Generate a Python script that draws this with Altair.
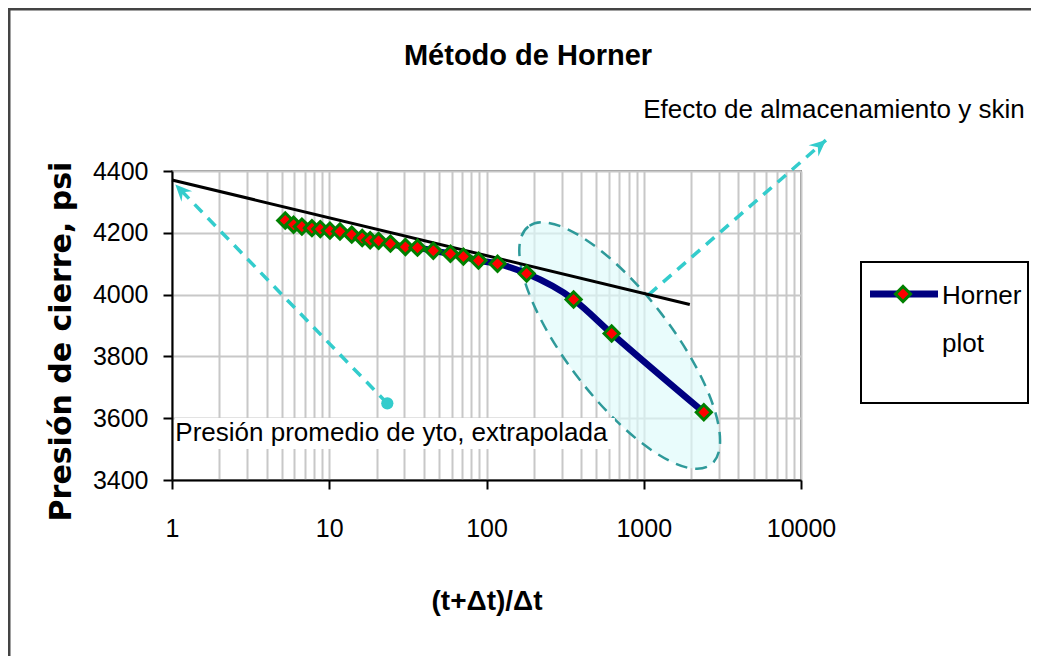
import altair as alt
import pandas as pd

# ---- data ----
horner_x = [5.25, 5.93, 6.7, 7.76, 8.77, 10.1, 11.7, 13.9, 16.2, 18.2, 20.6, 24.5,
            30.5, 36.4, 45.9, 59.0, 71.3, 88.9, 117.5, 180, 358, 625, 2410]
pressure = [4240, 4226, 4220, 4215, 4212, 4207, 4204, 4194, 4183, 4176, 4174, 4165,
            4154, 4152, 4142, 4132, 4123, 4110, 4100, 4068, 3984, 3874, 3619]

fit_x = [1, 1963]
fit_y = [4371, 3968]

x_ticks = [1, 10, 100, 1000, 10000]
y_ticks = [3400, 3600, 3800, 4000, 4200, 4400]
minor_x = [m * 10 ** e for e in range(4) for m in range(1, 10)] + [10000]

FONT = "Liberation Sans, Arial"
CYAN = "#33CCCC"

W, H = 629, 309

xscale = alt.Scale(type="log", domain=[1, 10000], nice=False)
yscale = alt.Scale(domain=[3400, 4400], nice=False, zero=False)

is_major = "indexof([1,10,100,1000,10000], datum.value) >= 0"
x_axis = alt.Axis(
    values=minor_x, format="d", title="(t+Δt)/Δt",
    grid=True, gridColor="#c8c8c8", gridWidth=2,
    tickOpacity={"condition": {"test": is_major, "value": 1}, "value": 0},
    tickColor="black", tickSize=9, tickWidth=2,
    domainColor="black", domainWidth=2,
    labelExpr=f"{is_major} ? datum.label : ''",
    labelFont=FONT, labelFontSize=25, labelColor="black",
    labelPadding=27, labelOverlap=False, labelFlush=False,
    titleFont=FONT, titleFontWeight="bold", titleFontSize=28,
    titleColor="black", titlePadding=46,
)
y_axis = alt.Axis(
    values=y_ticks, format="d", title="Presión de cierre, psi",
    grid=True, gridColor="#c8c8c8", gridWidth=2,
    tickColor="black", tickSize=9, tickWidth=2,
    domainColor="black", domainWidth=2,
    labelFont=FONT, labelFontSize=25, labelColor="black",
    labelPadding=15, labelFlush=False,
    titleFont="DejaVu Sans", titleFontWeight="bold", titleFontSize=30,
    titleColor="black", titleX=-111, titleY=170, titleAngle=270,
    titleAlign="center", titleBaseline="middle",
)

X = lambda f: alt.X(f, type="quantitative", scale=xscale, axis=x_axis)
Y = lambda f: alt.Y(f, type="quantitative", scale=yscale, axis=y_axis)

df = pd.DataFrame({"x": horner_x, "p": pressure})
fit = pd.DataFrame({"x": fit_x, "p": fit_y})
one = pd.DataFrame({"a": [0]})

# outer frame: only top and left edges are visible in the reference
frame_top = alt.Chart(one).mark_rule(color="#444444", strokeWidth=3).encode(
    x=alt.value(-165), x2=alt.value(900), y=alt.value(-162))
frame_left = alt.Chart(one).mark_rule(color="#444444", strokeWidth=3).encode(
    x=alt.value(-163), y=alt.value(-164), y2=alt.value(600))

# chart title
title = alt.Chart(pd.DataFrame({"t": ["Método de Horner"]})).mark_text(
    align="center", baseline="middle", font=FONT, fontSize=29, fontWeight="bold",
    color="black"
).encode(x=alt.value(356), y=alt.value(-115), text="t:N")

# ellipse
ell = pd.DataFrame({"x": [703], "p": [3835]})
ellipse = alt.Chart(ell).mark_point(
    shape="M -1 0 A 1 0.35 0 1 0 1 0 A 1 0.35 0 1 0 -1 0",
    filled=True, fill="#DDFBFB", fillOpacity=0.65,
    stroke="#2E9A9A", strokeWidth=2.5, strokeDash=[12, 8], opacity=1,
    size=90000, angle=52.5,
).encode(x=X("x"), y=Y("p"))

# white box behind the lower annotation
box_df = pd.DataFrame({"x": [1.04], "x2": [655], "p": [3601], "p2": [3500]})
box = alt.Chart(box_df).mark_rect(fill="white").encode(
    x=X("x"), x2="x2", y=Y("p"), y2="p2")

# dashed arrows
arr = pd.DataFrame({"x": [23.4, 1076], "p": [3648, 4000],
                    "x2": [1.07, 14400], "p2": [4352, 4500]})
arrows = alt.Chart(arr).mark_rule(
    color=CYAN, strokeWidth=3.5, strokeDash=[11, 8]
).encode(x=X("x"), y=Y("p"), x2="x2", y2="p2")

heads_df = pd.DataFrame({"x": [1.05, 14420], "p": [4356, 4500], "ang": [316, 49]})
heads = alt.Chart(heads_df).mark_point(
    shape="M 0 0 L 0.45 1 L 0 0.65 L -0.45 1 Z", filled=True, color=CYAN,
    opacity=1, size=1100,
).encode(x=X("x"), y=Y("p"), angle=alt.Angle("ang:Q", scale=None))

dot = alt.Chart(pd.DataFrame({"x": [23.4], "p": [3648]})).mark_point(
    shape="circle", filled=True, color=CYAN, opacity=1, size=150
).encode(x=X("x"), y=Y("p"))

# straight-line extrapolation
fit_line = alt.Chart(fit).mark_line(color="black", strokeWidth=3).encode(
    x=X("x"), y=Y("p"))

# Horner plot
line = alt.Chart(df).mark_line(color="#000080", strokeWidth=6.5,
                               interpolate="monotone").encode(x=X("x"), y=Y("p"))
pts = alt.Chart(df).mark_point(
    shape="diamond", filled=True, fill="#FF0000", stroke="#008000",
    strokeWidth=3, opacity=1, size=230
).encode(x=X("x"), y=Y("p"))

# annotations
txt1 = alt.Chart(pd.DataFrame({"x": [1.05], "p": [3553],
                               "t": ["Presión promedio de yto, extrapolada"]})).mark_text(
    align="left", baseline="middle", font=FONT, fontSize=26, color="black"
).encode(x=X("x"), y=Y("p"), text="t:N")
txt2 = alt.Chart(pd.DataFrame({"x": [991], "p": [4598],
                               "t": ["Efecto de almacenamiento y skin"]})).mark_text(
    align="left", baseline="middle", font=FONT, fontSize=26, color="black"
).encode(x=X("x"), y=Y("p"), text="t:N")

# legend (drawn)
leg_box = alt.Chart(one).mark_rect(fill="white", stroke="black", strokeWidth=2).encode(
    x=alt.value(689), x2=alt.value(856), y=alt.value(91), y2=alt.value(232))
leg_line = alt.Chart(one).mark_rule(color="#000080", strokeWidth=7).encode(
    x=alt.value(698), x2=alt.value(766), y=alt.value(123))
leg_pt = alt.Chart(one).mark_point(
    shape="diamond", filled=True, fill="#FF0000", stroke="#008000",
    strokeWidth=3, opacity=1, size=230
).encode(x=alt.value(731), y=alt.value(123))
leg_t1 = alt.Chart(pd.DataFrame({"t": ["Horner"]})).mark_text(
    align="left", baseline="middle", font=FONT, fontSize=26, color="black"
).encode(x=alt.value(770), y=alt.value(125), text="t:N")
leg_t2 = alt.Chart(pd.DataFrame({"t": ["plot"]})).mark_text(
    align="left", baseline="middle", font=FONT, fontSize=26, color="black"
).encode(x=alt.value(770), y=alt.value(173), text="t:N")

chart = alt.layer(
    frame_top, frame_left, title, ellipse, box, arrows, heads, dot, fit_line, line, pts,
    txt1, txt2, leg_box, leg_line, leg_pt, leg_t1, leg_t2,
).properties(
    width=W, height=H,
    padding={"left": 164, "top": 163, "right": 230, "bottom": 176},
    autosize=alt.AutoSizeParams(type="none"),
    background="white",
).configure_view(stroke="#8c8c8c", strokeWidth=2)

chart.save("out.html", embed_options={"renderer": "svg", "actions": False})
